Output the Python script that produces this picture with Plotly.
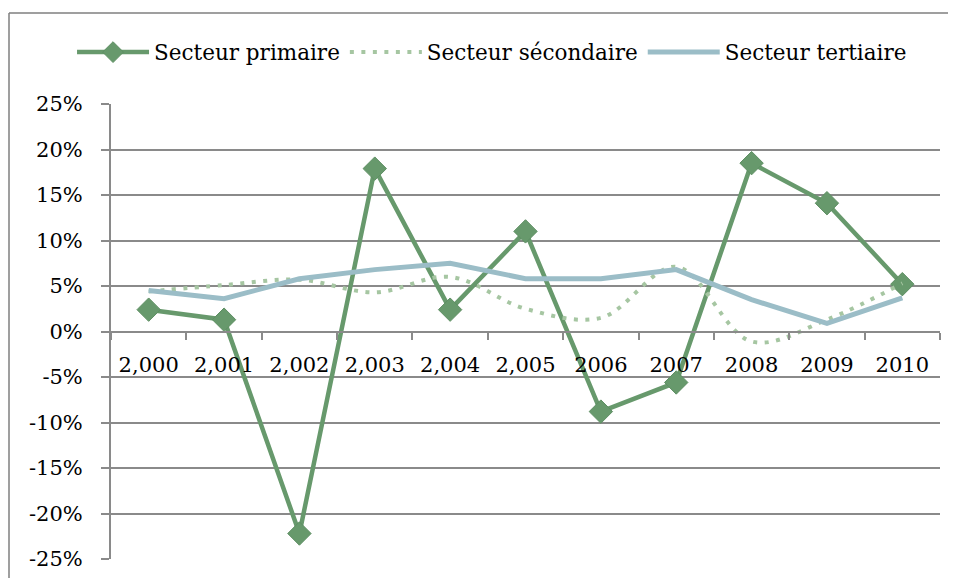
import plotly.graph_objects as go

years = ["2,000", "2,001", "2,002", "2,003", "2,004", "2,005",
         "2006", "2007", "2008", "2009", "2010"]
primaire = [0.024, 0.013, -0.222, 0.179, 0.024, 0.110, -0.088, -0.056, 0.185, 0.141, 0.052]
secondaire = [0.044, 0.051, 0.057, 0.043, 0.060, 0.025, 0.015, 0.071, -0.011, 0.013, 0.053]
tertiaire = [0.045, 0.036, 0.058, 0.068, 0.075, 0.058, 0.058, 0.068, 0.035, 0.009, 0.037]
y_ticks = [-0.25, -0.20, -0.15, -0.10, -0.05, 0, 0.05, 0.10, 0.15, 0.20, 0.25]
y_labels = ["-25%", "-20%", "-15%", "-10%", "-5%", "0%", "5%", "10%", "15%", "20%", "25%"]

FONT = "DejaVu Serif"
GRID = "#8a8a8a"

fig = go.Figure()
fig.add_trace(go.Scatter(
    x=years, y=primaire, name="Secteur primaire", mode="lines+markers",
    line=dict(color="#67996c", width=4.5),
    marker=dict(symbol="diamond", size=18, color="#67996c",
                line=dict(color="#5e8f63", width=1)),
))
fig.add_trace(go.Scatter(
    x=years, y=secondaire, name="Secteur sécondaire", mode="lines",
    line=dict(color="#a6c6a2", width=4, dash="4px,7.5px", shape="spline", smoothing=1.0),
))
fig.add_trace(go.Scatter(
    x=years, y=tertiaire, name="Secteur tertiaire", mode="lines",
    line=dict(color="#9bbdc7", width=5),
))

# page body adds an 8px offset
OFF = 8
L, R, T, B = 111 - OFF, 16, 104 - OFF, 19
W, H = 956 - OFF, 578 - OFF
pw, ph = W - L - R, H - T - B
x_left = (9 - OFF - L) / pw
y_top = (H - B - (13 - OFF)) / ph

fig.update_layout(
    width=W, height=H,
    margin=dict(l=L, r=R, t=T, b=B, autoexpand=False),
    paper_bgcolor="white", plot_bgcolor="white",
    font=dict(family=FONT, size=21, color="black"),
    showlegend=True,
    legend=dict(orientation="h", x=-0.047, xanchor="left", y=1.114, yanchor="middle",
                font=dict(family=FONT, size=21.5, color="black"),
                itemsizing="trace", traceorder="normal", itemwidth=72),
    xaxis=dict(type="category", range=[-0.5, 10.5], anchor="free", position=0.5,
               showgrid=False, showline=True, linecolor=GRID, linewidth=2,
               ticks="outside", tickson="boundaries", ticklen=7, tickcolor=GRID, tickwidth=2,
               ticklabelstandoff=14, tickfont=dict(family=FONT, size=21, color="black"),
               zeroline=False),
    yaxis=dict(range=[-0.25, 0.25], tickvals=y_ticks, ticktext=y_labels,
               showgrid=True, gridcolor=GRID, gridwidth=2,
               showline=True, linecolor=GRID, linewidth=2,
               ticks="outside", ticklen=8, tickcolor=GRID, tickwidth=2,
               ticklabelstandoff=14, tickfont=dict(family=FONT, size=21, color="black"),
               zeroline=False),
    shapes=[
        dict(type="line", xref="paper", yref="paper", x0=x_left, x1=x_left,
             y0=-0.1, y1=y_top, line=dict(color="#7f7f7f", width=1.5)),
        dict(type="line", xref="paper", yref="paper", x0=x_left, x1=1.1,
             y0=y_top, y1=y_top, line=dict(color="#7f7f7f", width=1.5)),
    ],
)

fig.write_html("out.html")
